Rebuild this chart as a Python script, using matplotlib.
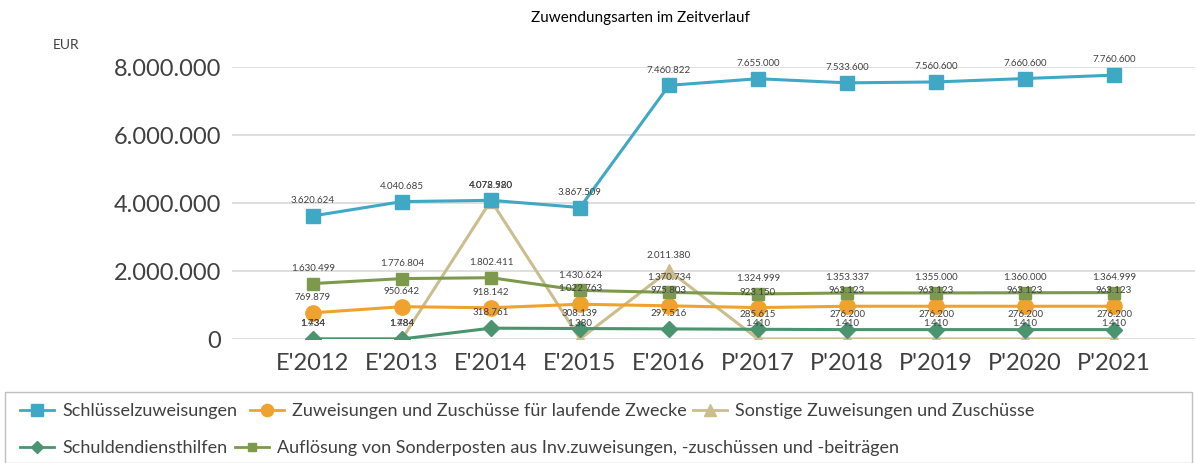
import matplotlib.pyplot as plt
from matplotlib.patches import Rectangle
from matplotlib.lines import Line2D

plt.rcParams['font.family'] = ['Lato', 'DejaVu Sans']

jahre = ["E'2012", "E'2013", "E'2014", "E'2015", "E'2016",
         "P'2017", "P'2018", "P'2019", "P'2020", "P'2021"]

schluessel = [3620624, 4040685, 4078920, 3867509, 7460822,
              7655000, 7533600, 7560600, 7660600, 7760600]
laufende = [769879, 950642, 918142, 1022763, 975803,
            923150, 963123, 963123, 963123, 963123]
sonstige = [1434, 1784, 4072580, 1380, 2011380,
            1410, 1410, 1410, 1410, 1410]
schulden = [1734, 1484, 318761, 308139, 297516,
            285615, 276200, 276200, 276200, 276200]
aufloesung = [1630499, 1776804, 1802411, 1430624, 1370734,
              1324999, 1353337, 1355000, 1360000, 1364999]

namen = ['Schlüsselzuweisungen',
         'Zuweisungen und Zuschüsse für laufende Zwecke',
         'Sonstige Zuweisungen und Zuschüsse',
         'Schuldendiensthilfen',
         'Auflösung von Sonderposten aus Inv.zuweisungen, -zuschüssen und -beiträgen']

def fmt(v):
    return f'{v:,.0f}'.replace(',', '.')

fig = plt.figure(figsize=(11.97, 4.63), dpi=100)
ax = fig.add_axes([232 / 1197, 1 - 339 / 463, (1195 - 232) / 1197, (339 - 67) / 463])

x = list(range(len(jahre)))
# (werte, farbe, marker, markergroesse, zorder)
reihen = [
    (schluessel, '#3fa9c5', 's', 10, 5),
    (laufende, '#f0a22e', 'o', 11, 4),
    (sonstige, '#cbbd8e', '^', 10, 3),
    (schulden, '#4a9470', 'D', 8, 4),
    (aufloesung, '#7d9a4c', 's', 8, 4),
]
for (werte, farbe, m, ms, z) in reihen:
    ax.plot(x, werte, color=farbe, marker=m, markersize=ms, lw=2.2, zorder=z)
for (werte, farbe, m, ms, z) in reihen:
    for xi, v in zip(x, werte):
        ax.annotate(fmt(v), (xi, v), xytext=(0, 11), textcoords='offset points',
                    ha='center', va='center', fontsize=7, color='#404040', zorder=6,
                    annotation_clip=False)

ax.set_xlim(-0.91, 9.91)
ax.set_ylim(0, 8000000)
ax.set_yticks([0, 2000000, 4000000, 6000000, 8000000])
ax.set_yticklabels([fmt(v) for v in [0, 2000000, 4000000, 6000000, 8000000]])
ax.set_xticks(x)
ax.set_xticklabels(jahre)
ax.tick_params(axis='both', length=0, labelsize=17, colors='#404040', pad=8)
ax.tick_params(axis='x', pad=10)
ax.grid(axis='y', color='#d9d9d9', lw=1.2)
ax.set_axisbelow(True)
for s in ax.spines.values():
    s.set_visible(False)

fig.text(640 / 1197, 1 - 18 / 463, 'Zuwendungsarten im Zeitverlauf', ha='center', va='center',
         fontsize=11, color='#000000')
fig.text(66 / 1197, 1 - 45 / 463, 'EUR', ha='center', va='center', fontsize=10, color='#404040')

# Legende
fig.patches.append(Rectangle((5 / 1197, 0.0), 1187 / 1197, 71 / 463, transform=fig.transFigure,
                             fill=False, edgecolor='#bfbfbf', lw=1))
pos = [(20, 411), (250, 411), (693, 411), (20, 448), (235, 448)]
for (werte, farbe, m, ms, z), name, (px, py) in zip(reihen, namen, pos):
    h = Line2D([], [], color=farbe, marker=m, markersize=ms * 0.8, lw=2)
    fig.legend([h], [name], loc='center left', bbox_to_anchor=(px / 1197, 1 - py / 463),
               frameon=False, fontsize=13, handlelength=1.88, handletextpad=0.45,
               borderpad=0, borderaxespad=0, labelcolor='#404040')

fig.savefig('out.png', dpi=100)
